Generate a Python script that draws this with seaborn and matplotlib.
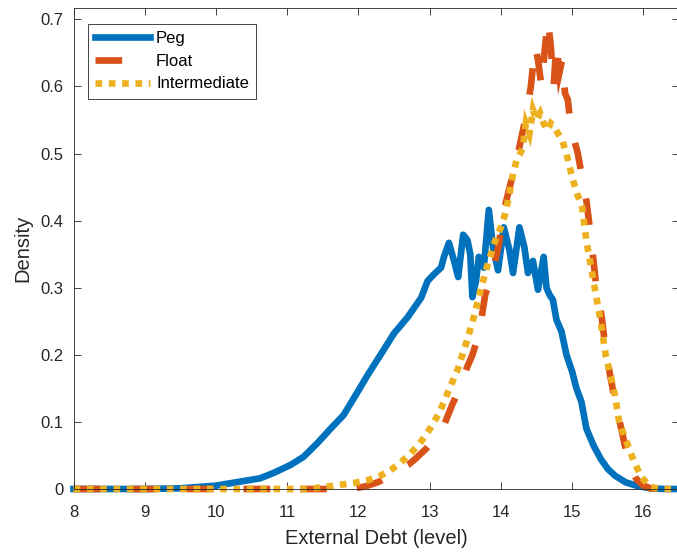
import matplotlib
matplotlib.use("Agg")
import matplotlib.pyplot as plt
import seaborn as sns
import pandas as pd

# ---- data ----
peg_x = [8.0, 9.0, 9.5, 10.0, 10.34, 10.62, 10.81, 11.05, 11.23, 11.42, 11.61, 11.79, 11.99, 12.13,
         12.31, 12.5, 12.69, 12.88, 12.97, 13.06, 13.16, 13.2, 13.27, 13.34, 13.4, 13.47, 13.53, 13.57,
         13.6, 13.65, 13.69, 13.76, 13.83, 13.89, 13.96, 14.04, 14.12, 14.17, 14.26, 14.33, 14.38, 14.45,
         14.52, 14.6, 14.64, 14.68, 14.73, 14.78, 14.85, 14.92, 15.0, 15.06, 15.13, 15.2, 15.3, 15.4,
         15.5, 15.6, 15.75, 15.9, 16.1, 16.3, 16.5]
peg_y = [0, 0, 0.001, 0.005, 0.011, 0.016, 0.024, 0.036, 0.048, 0.068, 0.09, 0.11, 0.145, 0.17,
         0.2, 0.232, 0.256, 0.285, 0.31, 0.32, 0.33, 0.346, 0.367, 0.341, 0.316, 0.379, 0.371, 0.35,
         0.286, 0.31, 0.346, 0.33, 0.416, 0.36, 0.326, 0.39, 0.356, 0.322, 0.39, 0.36, 0.322, 0.34,
         0.297, 0.346, 0.3, 0.29, 0.282, 0.252, 0.235, 0.2, 0.175, 0.15, 0.13, 0.09, 0.065, 0.045,
         0.03, 0.02, 0.01, 0.005, 0.001, 0, 0]

float_x = [8.0, 11.9, 12.1, 12.27, 12.4, 12.55, 12.7, 12.8, 12.95, 13.11, 13.2, 13.31, 13.42, 13.52,
           13.6, 13.66, 13.72, 13.78, 13.85, 13.92, 13.98, 14.03, 14.1, 14.17, 14.24, 14.3, 14.36,
           14.42, 14.48, 14.52, 14.57, 14.62, 14.66, 14.7, 14.74, 14.78, 14.82, 14.86, 14.9, 14.94,
           14.98, 15.03, 15.08, 15.13, 15.2, 15.27, 15.34, 15.41, 15.48, 15.55, 15.62, 15.69, 15.76,
           15.83, 15.9, 16.0, 16.1, 16.25, 16.5]
float_y = [0, 0, 0.004, 0.01, 0.017, 0.027, 0.036, 0.045, 0.06, 0.08, 0.095, 0.124, 0.15, 0.18,
           0.2, 0.22, 0.25, 0.29, 0.31, 0.34, 0.37, 0.41, 0.44, 0.47, 0.5, 0.53, 0.56,
           0.6, 0.66, 0.64, 0.6, 0.66, 0.7, 0.66, 0.6, 0.665, 0.62, 0.64, 0.59, 0.58,
           0.54, 0.52, 0.5, 0.47, 0.43, 0.37, 0.3, 0.26, 0.2, 0.16, 0.12, 0.09, 0.055,
           0.03, 0.015, 0.005, 0.001, 0, 0]

inter_x = [8.0, 11.3, 11.52, 11.8, 11.94, 12.13, 12.31, 12.45, 12.6, 12.72, 12.83, 12.93, 13.03,
           13.14, 13.28, 13.4, 13.52, 13.63, 13.7, 13.8, 13.92, 14.0, 14.06, 14.12, 14.17, 14.22,
           14.27, 14.31, 14.35, 14.4, 14.45, 14.5, 14.55, 14.6, 14.65, 14.7, 14.75, 14.8, 14.86,
           14.92, 15.0, 15.07, 15.14, 15.2, 15.3, 15.4, 15.47, 15.55, 15.6, 15.66, 15.72, 15.79,
           15.86, 15.97, 16.1, 16.25, 16.5]
inter_y = [0, 0, 0.003, 0.007, 0.009, 0.013, 0.02, 0.028, 0.04, 0.052, 0.064, 0.078, 0.094,
           0.115, 0.15, 0.18, 0.22, 0.26, 0.29, 0.33, 0.37, 0.39, 0.41, 0.44, 0.47, 0.49,
           0.5, 0.51, 0.545, 0.53, 0.565, 0.55, 0.56, 0.545, 0.535, 0.545, 0.54, 0.53, 0.52,
           0.5, 0.465, 0.44, 0.42, 0.37, 0.31, 0.25, 0.2, 0.165, 0.14, 0.1, 0.083, 0.063,
           0.043, 0.018, 0.003, 0, 0]

series_names = ["Peg", "Float", "Intermediate"]
x_ticks = [8, 9, 10, 11, 12, 13, 14, 15, 16]
x_tick_labels = ["8", "9", "10", "11", "12", "13", "14", "15", "16"]
y_ticks = [0, 0.1, 0.2, 0.3, 0.4, 0.5, 0.6, 0.7]
y_tick_labels = ["0", "0.1", "0.2", "0.3", "0.4", "0.5", "0.6", "0.7"]

# ---- styling ----
plt.rcParams["font.family"] = ["Liberation Sans", "DejaVu Sans"]
colors = ["#0072BD", "#D95319", "#EDB120"]
lw = 4.8
styles = ["-", (0, (4.0, 4.5)), (0, (1, 1))]
ink = "#262626"

W, H = 677, 553
fig = plt.figure(figsize=(W / 100, H / 100), dpi=100)
left, right, bottom, top = 73.5, 679, 489, 8
ax = fig.add_axes([left / W, (H - bottom) / H, (right - left) / W, (bottom - top) / H])

data = [(peg_x, peg_y), (float_x, float_y), (inter_x, inter_y)]
for (xs, ys), name, c, ls in zip(data, series_names, colors, styles):
    df = pd.DataFrame({"x": xs, "y": ys})
    sns.lineplot(data=df, x="x", y="y", ax=ax, color=c, linewidth=lw, linestyle=ls,
                 label=name, estimator=None, sort=False, clip_on=False,
                 solid_joinstyle="round", dash_joinstyle="miter")

ax.set_xlim(8, 16.5)
ax.set_ylim(0, 0.717)
ax.set_xticks(x_ticks)
ax.set_xticklabels(x_tick_labels)
ax.set_yticks(y_ticks)
ax.set_yticklabels(y_tick_labels)
ax.tick_params(direction="in", top=True, right=True, length=5, width=0.6,
               color=ink, labelcolor=ink, labelsize=12)
ax.tick_params(axis="y", pad=7)
ax.tick_params(axis="x", pad=11.5)
for s in ax.spines.values():
    s.set_color(ink)
    s.set_linewidth(0.6)

ax.set_xlabel("External Debt (level)", fontsize=14.5, color=ink, labelpad=6.5)
ax.set_ylabel("Density", fontsize=14.5, color=ink, labelpad=6)

leg = ax.legend(loc="upper left", bbox_to_anchor=(0.024, 0.967), borderaxespad=0,
                fontsize=12, handlelength=3.3, handletextpad=0.35, labelspacing=0.46,
                borderpad=0.43, fancybox=False, framealpha=1, edgecolor=ink)
leg.get_frame().set_linewidth(0.6)

fig.savefig("out.png", dpi=100)
